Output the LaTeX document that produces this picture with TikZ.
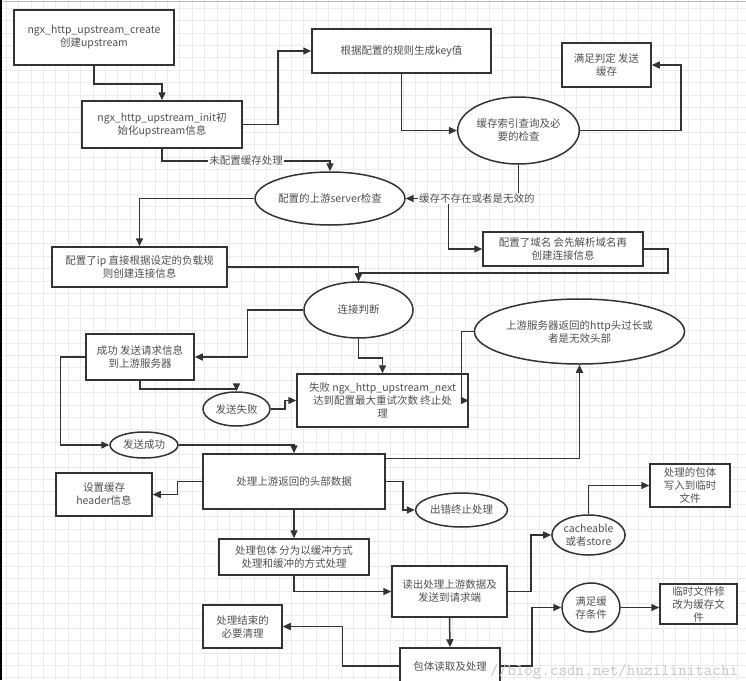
\documentclass[tikz,border=0pt]{standalone}
\usepackage{fontspec}
\setmainfont{Noto Sans CJK SC}
\setmonofont{Latin Modern Mono}
\usepackage{tikz}
\usetikzlibrary{shapes.geometric,arrows.meta}
\definecolor{ink}{HTML}{333333}
\definecolor{txt}{HTML}{505050}
\definecolor{gridc}{HTML}{EBEBEB}

\begin{document}
\begin{tikzpicture}[x=1pt,y=-1pt,
    font=\fontsize{10.5}{13}\selectfont,
    box/.style={draw=ink, line width=1.5pt, fill=white, text=txt, align=center, inner sep=1pt},
    oval/.style={box, ellipse},
    arr/.style={draw=ink, line width=1.5pt, -{Triangle[length=8pt,width=7pt]}},
    lbl/.style={fill=white, text=txt, inner sep=1pt}]
    \useasboundingbox (0,0) rectangle (746,680);
    \clip (0,0) rectangle (746,680);
    % background grid
    \foreach \gx in {6,18.4,...,746} \draw[gridc, line width=0.6pt] (\gx,0) -- (\gx,680);
    \foreach \gy in {8,20.4,...,680} \draw[gridc, line width=0.6pt] (0,\gy) -- (746,\gy);
    \draw[black!25, line width=1pt] (0,1) -- (746,1);
    \draw[black, line width=2pt] (1,0) -- (1,680);

    % nodes
    \node[box, minimum width=160, minimum height=55] (create) at (94,37.5) {ngx\_http\_upstream\_create\\创建upstream};
    \node[box, minimum width=160, minimum height=47] (init) at (162,124.5) {ngx\_http\_upstream\_init初\\始化upstream信息};
    \node[box, minimum width=179, minimum height=44] (key) at (401.5,51) {根据配置的规则生成key值};
    \node[box, minimum width=89, minimum height=44] (satisfy) at (606.5,65) {满足判定 发送\\缓存};
    \node[oval, minimum width=113, minimum height=67] (cachecheck) at (518.5,130.5) {缓存索引查询及必\\要的检查};
    \node[oval, minimum width=134, minimum height=53] (server) at (330,198.5) {配置的上游server检查};
    \node[box, minimum width=160, minimum height=34] (domain) at (563,249) {配置了域名 会先解析域名再\\创建连接信息};
    \node[box, minimum width=175, minimum height=40] (ip) at (139.5,267) {配置了ip 直接根据设定的负载规\\则创建连接信息};
    \node[oval, minimum width=109, minimum height=56] (connect) at (358.5,310) {连接判断};
    \node[box, minimum width=108, minimum height=46] (success) at (140,357) {成功 发送请求信息\\到上游服务器};
    \node[box, minimum width=171, minimum height=53] (fail) at (382.5,400.5) {失败 ngx\_http\_upstream\_next\\达到配置最大重试次数 终止处\\理};
    \node[oval, minimum width=67, minimum height=34] (sendfail) at (236.5,409) {发送失败};
    \node[oval, minimum width=68, minimum height=26] (sendsuccess) at (144,445) {发送成功};
    \node[oval, minimum width=179, minimum height=65] (invalid) at (579.5,331.5) {上游服务器返回的http头过长或\\者是无效头部};
    \node[box, minimum width=182, minimum height=55] (header) at (294,481.5) {处理上游返回的头部数据};
    \node[box, minimum width=96, minimum height=43] (setcache) at (104,494.5) {设置缓存\\header信息};
    \node[oval, minimum width=85, minimum height=34] (errstop) at (461.5,510) {出错终止处理};
    \node[box, minimum width=150, minimum height=36] (body) at (294,557) {处理包体 分为以缓冲方式\\处理和缓冲的方式处理};
    \node[box, minimum width=115, minimum height=51] (read) at (449.5,591.5) {读出处理上游数据及\\发送到请求端};
    \node[box, minimum width=79, minimum height=43] (cleanup) at (242.5,626.5) {处理结束的\\必要清理};
    \node[box, minimum width=100, minimum height=36] (bodyread) at (450,666) {包体读取及处理};
    \node[oval, minimum width=71, minimum height=40] (cacheable) at (588.5,535) {cacheable\\或者store};
    \node[box, minimum width=80, minimum height=43] (tempfile) at (690,485.5) {处理的包体\\写入到临时\\文件};
    \node[oval, minimum width=58, minimum height=49] (cachecond) at (591,607.5) {满足缓\\存条件};
    \node[box, minimum width=77, minimum height=40] (rename) at (698.5,604) {临时文件修\\改为缓存文\\件};

    % connectors
    \draw[arr] (create.south) -- ++(0,18) -| (init.north);
    \draw[arr] (init.east) -- ++(35,0) |- (key.west);
    \draw[arr] (init.south) -- ++(0,12) -| node[lbl, pos=0.25] (nocache) {未配置缓存处理} (server.north);
    \draw[arr] (key.south) |- (cachecheck.west);
    \draw[arr] (cachecheck.east) -- ++(101,0) |- (satisfy.east);
    \draw[arr] (server.east) -- ++(43,0) |- (domain.west);
    \draw[arr] (cachecheck.south) |- node[lbl, pos=0.685] (invalidcache) {缓存不存在或者是无效的} (server.east);
    \draw[arr] (server.west) -| (ip.north);
    \draw[arr] (ip.east) -| (connect.north);
    \draw[arr] (domain.east) -- ++(24,0) -- ++(0,24) -| (connect.north);
    \draw[arr] (connect.west) -- ++(-56,0) |- (success.east);
    \draw[arr] (connect.south) -- ++(0,19) -| (fail.north);
    \draw[arr] (success.south) -- ++(0,8) -| (sendfail.north);
    \draw[arr] (sendfail.east) -- ++(14,0) |- (fail.west);
    \draw[arr] (invalid.west) -- ++(-12,0) |- (fail.east);
    \draw[arr] (success.west) -- ++(-25,0) |- (sendsuccess.west);
    \draw[arr] (sendsuccess.east) -| (header.north);
    \draw[arr] (header.west) -- ++(-25,0) |- (setcache.east);
    \draw[arr] (header.north east) ++(0,5) -| (invalid.south);
    \draw[arr] (header.east) -- ++(17,0) |- (errstop.west);
    \draw[arr] (header.south) -- (body.north);
    \draw[arr] (body.south) |- (read.west);
    \draw[arr] (read.east) -- ++(23,0) |- (cacheable.west);
    \draw[arr] (cacheable.north) |- (tempfile.west);
    \draw[arr] (read.south) -- (bodyread.north);
    \draw[arr] (bodyread.east) -- ++(31,0) |- (cachecond.west);
    \draw[arr] (cachecond.east) -- (cachecond.east -| rename.west);
    \draw[arr] (bodyread.west) -- ++(-57,0) |- (cleanup.east);

    % watermark
    \node[anchor=west, inner sep=0, text=black!22, font=\ttfamily\fontsize{16.6}{18}\selectfont] (mark) at (490,672) {//blog.csdn.net/huzilinitachi};
\end{tikzpicture}
\end{document}
